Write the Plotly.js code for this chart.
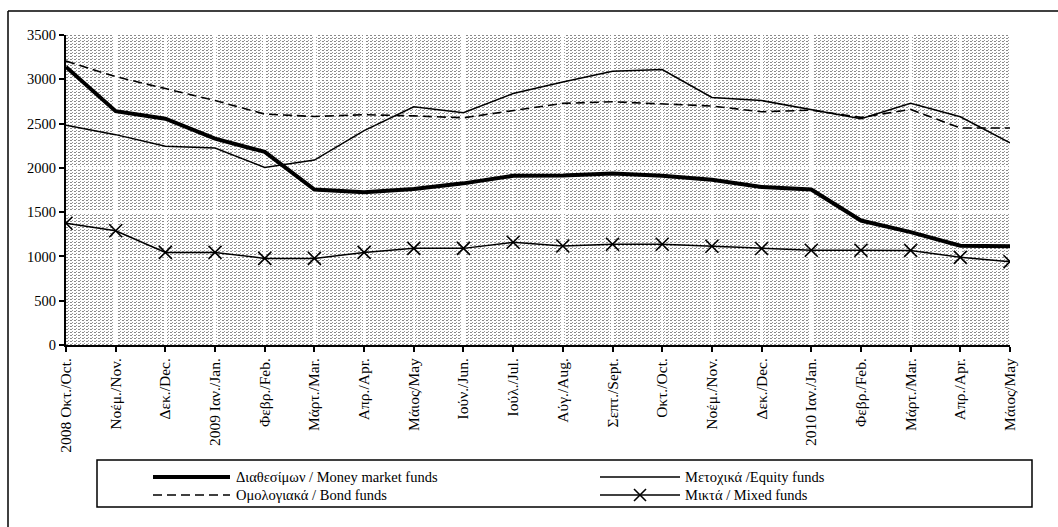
<!DOCTYPE html>
<html>
<head>
<meta charset="utf-8">
<script src="https://cdn.plot.ly/plotly-3.0.1.min.js"></script>
<style>
  html, body { margin: 0; padding: 0; background: #ffffff; }
  #chart { width: 1058px; height: 527px; }
</style>
</head>
<body>
<div id="chart"></div>
<script>
// ---- data ----
const categories = ['2008 Οκτ./Oct.','Νοέμ./Nov.','Δεκ./Dec.','2009 Ιαν./Jan.','Φεβρ./Feb.','Μάρτ./Mar.','Απρ./Apr.','Μάιος/May','Ιούν./Jun.','Ιούλ./Jul.','Αύγ./Aug.','Σεπτ./Sept.','Οκτ./Oct.','Νοέμ./Nov.','Δεκ./Dec.','2010 Ιαν./Jan.','Φεβρ./Feb.','Μάρτ./Mar.','Απρ./Apr.','Μάιος/May'];
const moneyMarket = [3140, 2640, 2555, 2330, 2180, 1755, 1725, 1760, 1825, 1910, 1915, 1935, 1910, 1865, 1785, 1755, 1405, 1275, 1120, 1115];
const equity      = [2480, 2375, 2245, 2225, 2005, 2088, 2420, 2690, 2622, 2840, 2970, 3090, 3110, 2795, 2760, 2655, 2555, 2730, 2577, 2283];
const bond        = [3205, 3030, 2895, 2760, 2607, 2580, 2600, 2587, 2565, 2644, 2728, 2746, 2724, 2698, 2633, 2652, 2570, 2660, 2450, 2450];
const mixed       = [1375, 1290, 1045, 1045, 978, 978, 1045, 1091, 1091, 1160, 1118, 1138, 1138, 1115, 1090, 1070, 1070, 1068, 990, 940];
const seriesNames = ['Διαθεσίμων / Money market funds', 'Μετοχικά /Equity funds', 'Ομολογιακά / Bond funds', 'Μικτά / Mixed funds'];
const yTicks = [0, 500, 1000, 1500, 2000, 2500, 3000, 3500];

const xIdx = categories.map((c, i) => i);
const FONT = '"Liberation Serif", "Times New Roman", Times, serif';

const traces = [
  { x: xIdx, y: moneyMarket, name: seriesNames[0], type: 'scatter', mode: 'lines',
    line: { color: '#000', width: 4 } },
  { x: xIdx, y: equity, name: seriesNames[1], type: 'scatter', mode: 'lines',
    line: { color: '#000', width: 1.5 } },
  { x: xIdx, y: bond, name: seriesNames[2], type: 'scatter', mode: 'lines',
    line: { color: '#000', width: 1.6, dash: '9px,5px' } },
  { x: xIdx, y: mixed, name: seriesNames[3], type: 'scatter', mode: 'lines+markers',
    line: { color: '#000', width: 1.5 },
    marker: { symbol: 'x-thin-open', size: 13, color: '#000', line: { color: '#000', width: 1.6 } } }
];

// pixel helpers for the hand-drawn legend / frame (plot area 66..1010 x 35..345)
const L = 66, R = 1010, T = 35, B = 345;
const px = v => (v - L) / (R - L);
const py = v => (B - v) / (B - T);

const legTop = 460, legBot = 507, legLeft = 97, legRight = 1032;
const row1 = 477, row2 = 495;
const c1a = 153, c1b = 230, c2a = 600, c2b = 680;

// dotted fill pattern of the plot area (Excel-style pattern background)
const W = R - L, H = B - T;
const patternSvg =
  '<svg xmlns="http://www.w3.org/2000/svg" width="' + W + '" height="' + H + '" shape-rendering="crispEdges">' +
  '<defs><pattern id="p" width="4" height="3" patternUnits="userSpaceOnUse">' +
  '<rect width="4" height="3" fill="#ffffff"/>' +
  '<rect x="0" y="0" width="2" height="1" fill="#8a8a8a"/>' +
  '<rect x="2" y="2" width="1" height="1" fill="#9a9a9a"/>' +
  '</pattern></defs><rect width="' + W + '" height="' + H + '" fill="url(#p)"/></svg>';
const patternUri = 'data:image/svg+xml;charset=utf-8,' + encodeURIComponent(patternSvg);

const shapes = [
  // outer chart frame (only the top and left edges fall inside the picture)
  { type: 'line', xref: 'paper', yref: 'paper', x0: px(8), x1: px(1070), y0: py(11), y1: py(11),
    line: { color: '#000', width: 1.5 }, layer: 'above' },
  { type: 'line', xref: 'paper', yref: 'paper', x0: px(8), x1: px(8), y0: py(11), y1: py(540),
    line: { color: '#000', width: 1.5 }, layer: 'above' },
  // legend box
  { type: 'rect', xref: 'paper', yref: 'paper', x0: px(legLeft), x1: px(legRight), y0: py(legBot), y1: py(legTop),
    line: { color: '#000', width: 1.5 }, layer: 'above' },
  // legend samples
  { type: 'line', xref: 'paper', yref: 'paper', x0: px(c1a), x1: px(c1b), y0: py(row1), y1: py(row1),
    line: { color: '#000', width: 4 } },
  { type: 'line', xref: 'paper', yref: 'paper', x0: px(c1a), x1: px(c1b), y0: py(row2), y1: py(row2),
    line: { color: '#000', width: 1.6, dash: '9px,5px' } },
  { type: 'line', xref: 'paper', yref: 'paper', x0: px(c2a), x1: px(c2b), y0: py(row1), y1: py(row1),
    line: { color: '#000', width: 1.5 } },
  { type: 'line', xref: 'paper', yref: 'paper', x0: px(c2a), x1: px(c2b), y0: py(row2), y1: py(row2),
    line: { color: '#000', width: 1.5 } },
  { type: 'line', xref: 'paper', yref: 'paper', x0: px(634), x1: px(646), y0: py(row2 - 6), y1: py(row2 + 6),
    line: { color: '#000', width: 1.6 } },
  { type: 'line', xref: 'paper', yref: 'paper', x0: px(634), x1: px(646), y0: py(row2 + 6), y1: py(row2 - 6),
    line: { color: '#000', width: 1.6 } }
];

const annotations = [
  [seriesNames[0], c1b + 4, row1],
  [seriesNames[2], c1b + 4, row2],
  [seriesNames[1], c2b + 3, row1],
  [seriesNames[3], c2b + 3, row2]
].map(([t, x, y]) => ({
  text: t, xref: 'paper', yref: 'paper', x: px(x), y: py(y), xanchor: 'left', yanchor: 'middle',
  showarrow: false, font: { family: FONT, size: 14.5, color: '#000' }
}));

const layout = {
  width: 1058, height: 527,
  margin: { l: L, r: 1058 - R, t: T, b: 527 - B, pad: 0 },
  paper_bgcolor: '#ffffff',
  plot_bgcolor: '#d2d2d2',
  showlegend: false,
  font: { family: FONT, size: 14, color: '#000' },
  images: [{ source: patternUri, xref: 'paper', yref: 'paper', x: 0, y: 1, sizex: 1, sizey: 1,
             xanchor: 'left', yanchor: 'top', sizing: 'stretch', layer: 'below' }],
  xaxis: {
    type: 'linear', range: [0, categories.length - 1],
    tickmode: 'array', tickvals: xIdx, ticktext: categories, tickangle: -90,
    tickfont: { family: FONT, size: 15.5, color: '#000' },
    ticks: 'outside', ticklen: 5, tickwidth: 2, tickcolor: '#000',
    showline: true, linecolor: '#000', linewidth: 2,
    showgrid: true, gridcolor: '#ffffff', gridwidth: 2.5, zeroline: false
  },
  yaxis: {
    range: [0, 3500], tickmode: 'array', tickvals: yTicks,
    tickfont: { family: FONT, size: 14.5, color: '#000' },
    ticks: 'outside', ticklen: 5, tickwidth: 2, tickcolor: '#000',
    showline: true, linecolor: '#000', linewidth: 2,
    showgrid: true, gridcolor: '#ffffff', gridwidth: 1.5, zeroline: false
  },
  shapes: shapes,
  annotations: annotations
};

Plotly.newPlot('chart', traces, layout, { displayModeBar: false, staticPlot: true });
</script>
</body>
</html>
